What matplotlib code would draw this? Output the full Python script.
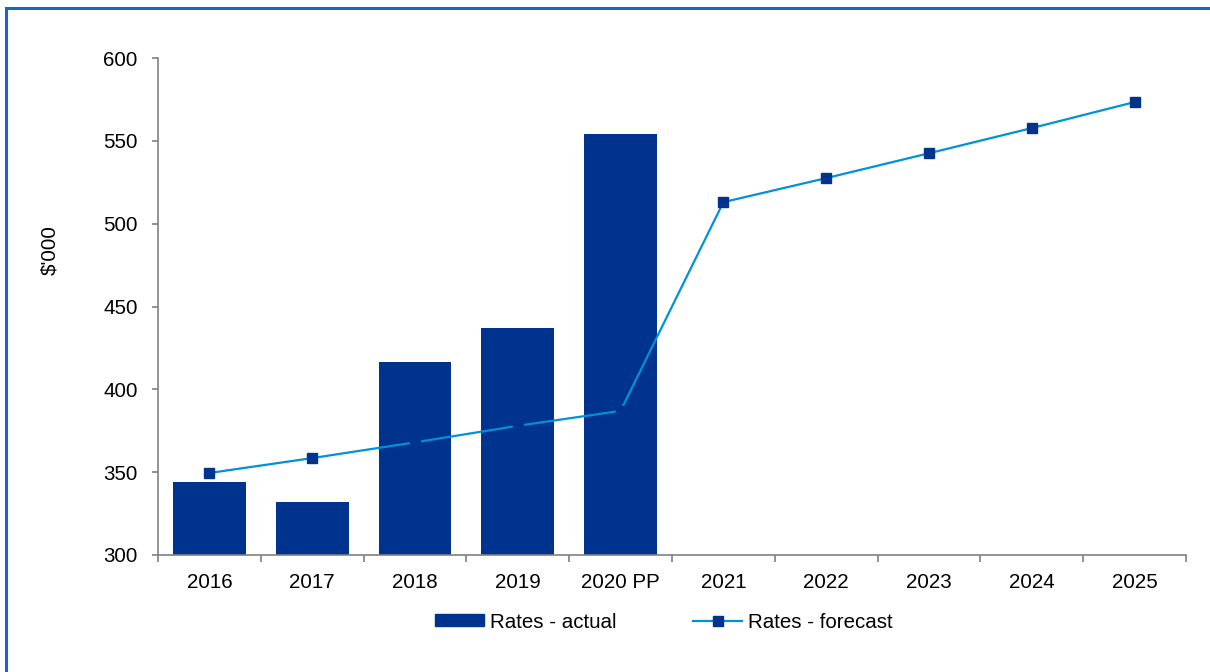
import matplotlib
matplotlib.use("Agg")
import matplotlib.pyplot as plt
from matplotlib.patches import Rectangle
from matplotlib.lines import Line2D
from matplotlib.patches import Patch
import numpy as np

plt.rcParams['font.family'] = ['Liberation Sans', 'DejaVu Sans']

categories = ["2016", "2017", "2018", "2019", "2020 PP", "2021", "2022", "2023", "2024", "2025"]
actual = [344, 332, 416.5, 437, 554]
forecast = [349.5, 358.5, 368, 378, 387, 513, 527.5, 542.5, 557.7, 573.4]

bar_color = "#00338D"
line_color = "#0091DA"
frame_color = "#1E64C8"
axis_color = "#808080"
fs = 14.8

fig = plt.figure(figsize=(12.10, 6.72), dpi=100)
ax = fig.add_axes([158 / 1210, 1 - 555 / 672, (1186 - 158) / 1210, (555 - 58) / 672])

x = np.arange(len(categories))
ax.bar(x[:len(actual)], [v - 300 for v in actual], bottom=300, width=0.71,
       color=bar_color, zorder=2)
ax.plot(x, forecast, color=line_color, lw=1.6, marker="s", markersize=6.5,
        markerfacecolor=bar_color, markeredgecolor=bar_color, zorder=3)

ax.set_xlim(-0.5, len(categories) - 0.5)
ax.set_ylim(300, 600)
ax.set_yticks(np.arange(300, 601, 50))
ax.set_xticks(x)
ax.set_xticklabels(categories)
ax.set_xticks(np.arange(-0.5, len(categories), 1), minor=True)
ax.tick_params(axis="x", which="major", length=0, pad=13, labelsize=fs)
ax.tick_params(axis="x", which="minor", length=5, color=axis_color, width=1.2, direction="out")
ax.tick_params(axis="y", length=4.5, color=axis_color, width=1.2, direction="out", pad=10, labelsize=fs)

for side in ("top", "right"):
    ax.spines[side].set_visible(False)
for side in ("left", "bottom"):
    ax.spines[side].set_color(axis_color)
    ax.spines[side].set_linewidth(1.2)

fig.text(50 / 1210, 1 - 250 / 672, "$'000", rotation=90, ha="center", va="center", fontsize=fs)

handles = [Patch(facecolor=bar_color, edgecolor=bar_color),
           Line2D([0], [0], color=line_color, lw=1.6, marker="s", markersize=6.5,
                  markerfacecolor=bar_color, markeredgecolor=bar_color)]
fig.legend(handles, ["Rates - actual", "Rates - forecast"], loc="center",
           bbox_to_anchor=(664 / 1210, 1 - 622 / 672), ncol=2, frameon=False,
           fontsize=fs, handlelength=2.4, handleheight=0.5, columnspacing=3.7,
           handletextpad=0.3)

fig.patches.append(Rectangle((6 / 1210, -0.1), 1.2, 1 - 8 / 672 + 0.1,
                             transform=fig.transFigure, fill=False,
                             edgecolor=frame_color, lw=2.2))

fig.savefig("out.png", dpi=100)
